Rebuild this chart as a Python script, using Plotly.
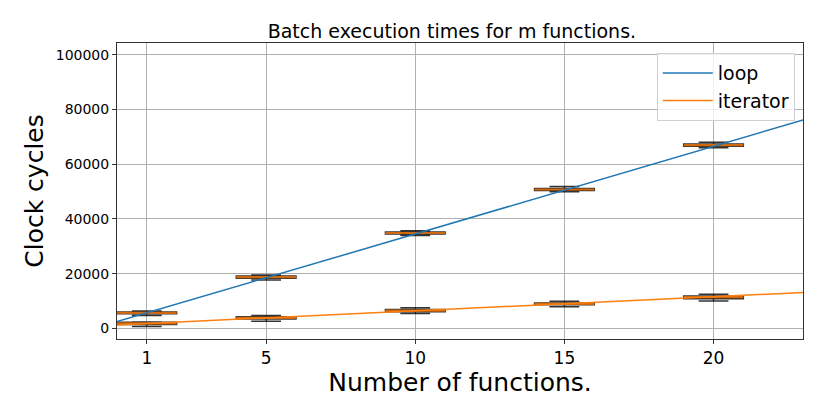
import numpy as np
import plotly.graph_objects as go

# ---- data ----
n_functions = [1, 5, 10, 15, 20]

loop_lower = [4700, 17700, 33900, 49900, 66000]
loop_q1 = [5300, 18300, 34500, 50400, 66600]
loop_median = [5650, 18700, 34850, 50750, 67000]
loop_q3 = [6000, 19100, 35200, 51100, 67400]
loop_upper = [6300, 19500, 35700, 51800, 68000]

iter_lower = [700, 2600, 5400, 7900, 10000]
iter_q1 = [1400, 3400, 6100, 8600, 10800]
iter_median = [1800, 3800, 6500, 8950, 11400]
iter_q3 = [2200, 4200, 6900, 9300, 11800]
iter_upper = [2300, 4700, 7500, 9900, 12500]

# linear fits (slope, intercept)
loop_fit = [3204, 2460]
iter_fit = [515, 1250]

x_ticks = [1, 5, 10, 15, 20]
y_ticks = [0, 20000, 40000, 60000, 80000, 100000]

BLUE = "#1f77b4"
ORANGE = "#ff7f0e"

fig = go.Figure()

fit_x = np.array([0.0, 23.0])

for lo, q1, med, q3, up in [
    (loop_lower, loop_q1, loop_median, loop_q3, loop_upper),
    (iter_lower, iter_q1, iter_median, iter_q3, iter_upper),
]:
    fig.add_trace(go.Box(
        x=n_functions, q1=q1, median=med, q3=q3,
        lowerfence=lo, upperfence=up,
        width=2, whiskerwidth=0.5,
        line=dict(color="rgba(0,0,0,0.8)", width=1.5),
        fillcolor="rgba(90,90,90,0.45)",
        showlegend=False, hoverinfo="skip",
    ))
    mx, my = [], []
    for xv, mv in zip(n_functions, med):
        mx += [xv - 1, xv + 1, None]
        my += [mv, mv, None]
    fig.add_trace(go.Scatter(
        x=mx, y=my, mode="lines",
        line=dict(color="#d0690e", width=2.2),
        showlegend=False, hoverinfo="skip",
    ))

fig.add_trace(go.Scatter(
    x=fit_x, y=loop_fit[0] * fit_x + loop_fit[1], mode="lines",
    name="loop", line=dict(color=BLUE, width=1.5),
))
fig.add_trace(go.Scatter(
    x=fit_x, y=iter_fit[0] * fit_x + iter_fit[1], mode="lines",
    name="iterator", line=dict(color=ORANGE, width=1.5),
))

axis_common = dict(
    automargin=False,
    showline=True, linecolor="#333333", linewidth=1, mirror=True,
    ticks="outside", ticklen=4, tickcolor="#333333",
    showgrid=True, gridcolor="#b0b0b0", gridwidth=1, zeroline=False,
)

fig.update_layout(
    template="none",
    width=822, height=407,
    margin=dict(l=109, r=27, t=35, b=76, autoexpand=False),
    paper_bgcolor="white", plot_bgcolor="white",
    font=dict(family="DejaVu Sans", color="black"),
    boxmode="overlay",
    title=dict(text="Batch execution times for m functions.",
               x=0.540, xanchor="center", y=0.943, yanchor="middle",
               font=dict(size=19)),
    xaxis=dict(range=[0, 23], tickvals=x_ticks, ticktext=[str(v) for v in x_ticks],
               tickfont=dict(size=17),
               title=dict(text="Number of functions.", font=dict(size=25), standoff=3),
               **axis_common),
    yaxis=dict(range=[-3900, 104300], tickvals=y_ticks, ticktext=[str(v) for v in y_ticks],
               tickfont=dict(size=14),
               title=dict(text="Clock cycles", font=dict(size=25), standoff=4),
               **axis_common),
    legend=dict(x=0.988, y=0.966, xanchor="right", yanchor="top",
                bgcolor="rgba(255,255,255,0.8)", bordercolor="#d0d0d0", borderwidth=1,
                itemwidth=50, font=dict(size=19)),
)

fig.write_html("out.html")
